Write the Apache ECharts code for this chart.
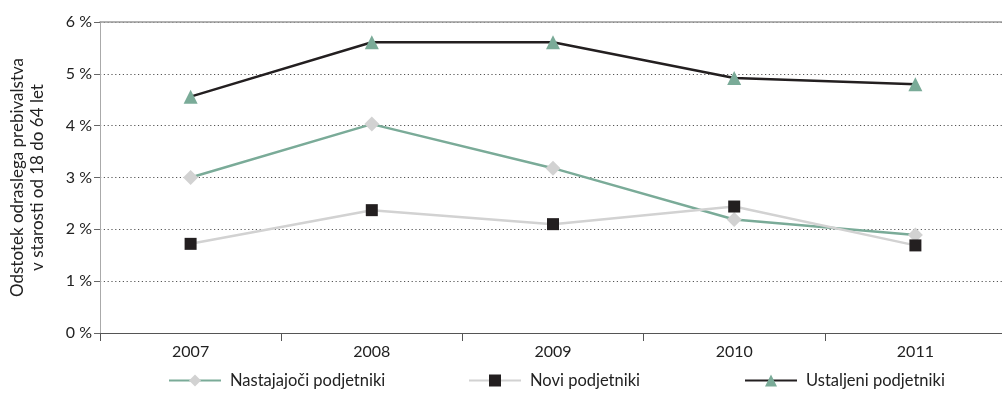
<!DOCTYPE html>
<html>
<head>
<meta charset="utf-8">
<script src="https://cdn.jsdelivr.net/npm/echarts@6/dist/echarts.min.js"></script>
<style>html,body{margin:0;padding:0;background:#fff;}#c{width:1002px;height:393px;}</style>
</head>
<body>
<div id="c"></div>
<script>
const categories = ['2007', '2008', '2009', '2010', '2011'];
const nastajajoci = [3.0, 4.03, 3.18, 2.19, 1.89];
const novi = [1.72, 2.37, 2.10, 2.44, 1.69];
const ustaljeni = [4.56, 5.61, 5.61, 4.92, 4.80];
const seriesNames = ['Nastajajoči podjetniki', 'Novi podjetniki', 'Ustaljeni podjetniki'];

const GREEN = '#7aab98', GRAY = '#d2d2d2', BLACK = '#231f20';
const FONT = 'Lato';

const chart = echarts.init(document.getElementById('c'), null, {renderer: 'canvas'});
function legendAt(name, left) {
  return {
    data: [name], left: left, top: 372, padding: 0, itemWidth: 52, itemHeight: 15, itemGap: 0,
    textStyle: {fontFamily: FONT, fontSize: 16.5, color: '#222', padding: [0, 0, 0, 4]},
    selectedMode: false
  };
}
chart.setOption({
  animation: false,
  grid: {left: 100, right: -4, top: 22, bottom: 60, outerBoundsMode: 'none'},
  legend: [legendAt(seriesNames[0], 168), legendAt(seriesNames[1], 468), legendAt(seriesNames[2], 744)],
  xAxis: [{
    type: 'category', data: categories, boundaryGap: true,
    axisLine: {lineStyle: {color: '#555', width: 1.2}},
    axisTick: {show: true, length: 8, lineStyle: {color: '#555'}},
    axisLabel: {fontFamily: FONT, fontSize: 16, color: '#222', margin: 11}
  }, {
    type: 'category', data: categories, position: 'top',
    axisLine: {show: true, lineStyle: {color: '#999', width: 1.5}},
    axisTick: {show: false}, axisLabel: {show: false}
  }],
  yAxis: {
    type: 'value', min: 0, max: 6, interval: 1,
    name: 'Odstotek odraslega prebivalstva\nv starosti od 18 do 64 let',
    nameLocation: 'middle', nameGap: 52, nameRotate: 90,
    nameTextStyle: {fontFamily: FONT, fontSize: 17, color: '#222', lineHeight: 20},
    axisLine: {show: true, lineStyle: {color: '#aaa'}},
    axisTick: {show: true, length: 6, lineStyle: {color: '#666'}},
    axisLabel: {fontFamily: FONT, fontSize: 16, color: '#222', margin: 8, formatter: v => v + ' %'},
    splitLine: {show: true, lineStyle: {type: [1.2, 2.6], color: '#555', width: 1.2}}
  },
  series: [{
    name: seriesNames[0], type: 'line', data: nastajajoci, z: 3,
    lineStyle: {color: GREEN, width: 2.5}, itemStyle: {color: GRAY},
    symbol: 'diamond', symbolSize: 15, showAllSymbol: true
  }, {
    name: seriesNames[1], type: 'line', data: novi, z: 4,
    lineStyle: {color: GRAY, width: 2.5}, itemStyle: {color: BLACK},
    symbol: 'rect', symbolSize: 12
  }, {
    name: seriesNames[2], type: 'line', data: ustaljeni, z: 5,
    lineStyle: {color: BLACK, width: 2.5}, itemStyle: {color: GREEN},
    symbol: 'triangle', symbolSize: 14
  }]
});
</script>
</body>
</html>
